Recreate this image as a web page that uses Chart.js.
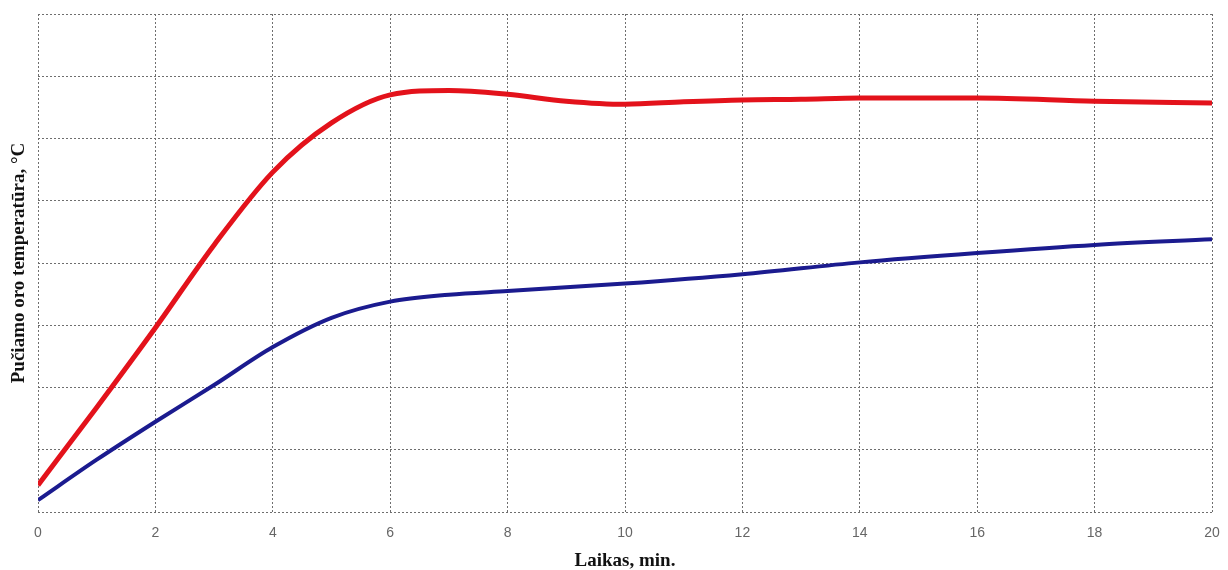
<!DOCTYPE html>
<html>
<head>
<meta charset="utf-8">
<title>Pučiamo oro temperatūra</title>
<script src="https://cdn.jsdelivr.net/npm/chart.js@4.4.0/dist/chart.umd.min.js"></script>
<style>
  html, body { margin: 0; padding: 0; background: #fff; }
</style>
</head>
<body>
<canvas id="myCanvas" width="1228" height="570"></canvas>
<script>
// time, min.
var redX  = [0, 1, 2, 3, 4, 5, 6, 7, 8, 9, 10, 11, 12, 13, 14, 16, 18, 20];
var redY  = [0.43, 1.68, 2.96, 4.29, 5.46, 6.25, 6.70, 6.77, 6.71, 6.60, 6.55, 6.59, 6.62, 6.63, 6.65, 6.65, 6.60, 6.57];
var blueX = [0, 1, 2, 3, 4, 5, 6, 7, 8, 10, 12, 14, 16, 18, 20];
var blueY = [0.19, 0.84, 1.45, 2.04, 2.65, 3.12, 3.38, 3.49, 3.55, 3.67, 3.82, 4.01, 4.16, 4.29, 4.38];
var xTicks = [0, 2, 4, 6, 8, 10, 12, 14, 16, 18, 20];

function pts(xs, ys) {
  return xs.map(function(x, i) { return {x: x, y: ys[i]}; });
}

var gridStyle = { color: '#6e6e6e', lineWidth: 1, drawTicks: false };
var borderStyle = { display: false, dash: [2, 2] };

new Chart(document.getElementById('myCanvas'), {
  type: 'line',
  data: {
    datasets: [
      {
        data: pts(redX, redY),
        borderColor: '#e3121b',
        borderWidth: 5,
        pointRadius: 0,
        cubicInterpolationMode: 'monotone'
      },
      {
        data: pts(blueX, blueY),
        borderColor: '#1b1b8f',
        borderWidth: 4,
        pointRadius: 0,
        cubicInterpolationMode: 'monotone'
      }
    ]
  },
  options: {
    responsive: false,
    animation: false,
    layout: { padding: { left: 8, right: 16, top: 14, bottom: 0 } },
    plugins: { legend: { display: false }, tooltip: { enabled: false } },
    scales: {
      x: {
        type: 'linear',
        min: 0, max: 20,
        afterBuildTicks: function(axis) { axis.ticks = xTicks.map(function(v) { return {value: v}; }); },
        afterFit: function(axis) {
          axis.height = 58;
          axis.paddingLeft = 0;
          axis.paddingRight = 0;
        },
        grid: gridStyle,
        border: borderStyle,
        ticks: { color: '#666', padding: 13, font: { family: 'Arial, Liberation Sans', size: 14 } },
        title: {
          display: true,
          text: 'Laikas, min.',
          color: '#111',
          padding: { top: 0, bottom: -2 },
          font: { family: '"Liberation Serif", "Times New Roman", serif', size: 19, weight: 'bold' }
        }
      },
      y: {
        min: 0, max: 8,
        ticks: { display: false, stepSize: 1 },
        afterFit: function(axis) { axis.width = 30; },
        grid: gridStyle,
        border: borderStyle,
        title: {
          display: true,
          text: 'Pučiamo oro temperatūra, °C',
          color: '#111',
          padding: { top: 0, bottom: 8 },
          font: { family: '"Liberation Serif", "Times New Roman", serif', size: 19, weight: 'bold' }
        }
      }
    }
  }
});
</script>
</body>
</html>
